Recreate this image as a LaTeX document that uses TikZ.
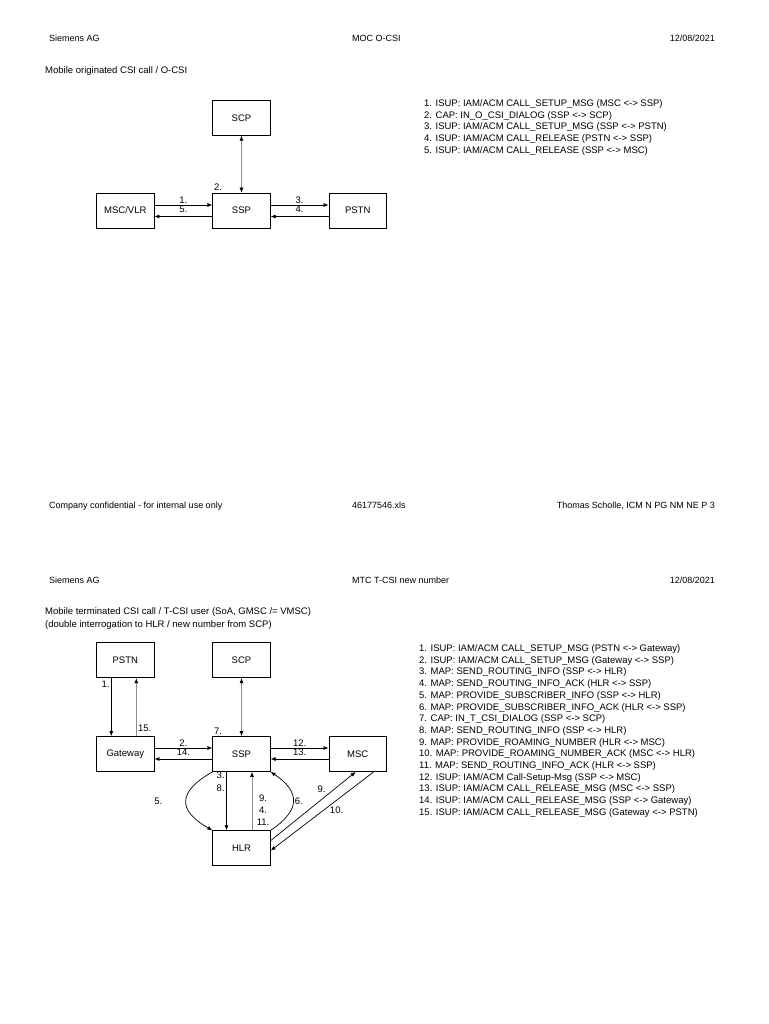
\documentclass[tikz,border=0pt]{standalone}
\usepackage{fontspec}
\setmainfont{Liberation Sans}
\usetikzlibrary{arrows.meta,positioning}

\begin{document}
\begin{tikzpicture}[
  x=1pt, y=-1pt,
  node distance=58pt and 58pt,
  box/.style={draw, minimum width=57.5pt, minimum height=35pt, line width=0.7pt, font=\fontsize{9.5}{11}\selectfont, inner sep=2pt},
  arr/.style={-{Latex[length=5pt,width=4pt]}, line width=0.7pt},
  uparr/.style={-{Latex[length=5pt,width=4pt,black]}, line width=0.7pt, draw=black!45},
  dbl/.style={{Latex[length=5pt,width=4pt,black]}-{Latex[length=5pt,width=4pt,black]}, line width=0.7pt, draw=black!45},
  lbl/.style={font=\fontsize{9.5}{11}\selectfont, inner sep=1.5pt},
  hdr/.style={font=\fontsize{9}{11}\selectfont, inner sep=0pt},
  msglist/.style={anchor=north west, align=left, font=\fontsize{9.5}{11.7}\selectfont, inner sep=0pt}
]
  \useasboundingbox (0,0) rectangle (768,1024);

  \node[hdr, anchor=base west] (co1) at (49,41.3) {Siemens AG};
  \node[hdr, anchor=base west] (ti1) at (352,41.3) {MOC O-CSI};
  \node[hdr, anchor=base east] (dt1) at (715,41.3) {12/08/2021};
  \node[lbl, anchor=base west, inner sep=0pt] (cap1) at (45,73.4) {Mobile originated CSI call / O-CSI};

  \node[box] (ssp1) at (241.5,210.5) {SSP};
  \node[box, left=of ssp1] (msc1) {MSC/VLR};
  \node[box, right=of ssp1] (pstn1) {PSTN};
  \node[box, above=57pt of ssp1] (scp1) {SCP};
  \draw[arr] ([yshift=5.5pt]msc1.east) -- node[lbl, above] (l1) {1.} node[lbl, below, inner sep=0.5pt] (l5) {5.} ([yshift=5.5pt]ssp1.west);
  \draw[arr] ([yshift=-6pt]ssp1.west) -- ([yshift=-6pt]msc1.east);
  \draw[arr] ([yshift=5.5pt]ssp1.east) -- node[lbl, above] (l3) {3.} node[lbl, below, inner sep=0.5pt] (l4) {4.} ([yshift=5.5pt]pstn1.west);
  \draw[arr] ([yshift=-6pt]pstn1.west) -- ([yshift=-6pt]ssp1.east);
  \draw[dbl] (scp1) -- (ssp1);
  \node[lbl, above right=0pt of ssp1.north west] (l2) {2.};

  \node[msglist] (list1) at (424,99.5) {1. ISUP: IAM/ACM CALL\_SETUP\_MSG (MSC <-> SSP)\\
    2. CAP: IN\_O\_CSI\_DIALOG (SSP <-> SCP)\\
    3. ISUP: IAM/ACM CALL\_SETUP\_MSG (SSP <-> PSTN)\\
    4. ISUP: IAM/ACM CALL\_RELEASE (PSTN <-> SSP)\\
    5. ISUP: IAM/ACM CALL\_RELEASE (SSP <-> MSC)};

  \node[hdr, anchor=base west] (foot1) at (49,508.3) {Company confidential - for internal use only};
  \node[hdr, anchor=base west] (file1) at (352,508.3) {46177546.xls};
  \node[hdr, anchor=base east] (auth1) at (715,508.3) {Thomas Scholle, ICM N PG NM NE P 3};

  \node[hdr, anchor=base west] (co2) at (49,583.3) {Siemens AG};
  \node[hdr, anchor=base west] (ti2) at (352,583.3) {MTC T-CSI new number};
  \node[hdr, anchor=base east] (dt2) at (715,583.3) {12/08/2021};
  \node[lbl, anchor=base west, inner sep=0pt] (cap2) at (45,614.4) {Mobile terminated CSI call / T-CSI user (SoA, GMSC /= VMSC)};
  \node[lbl, anchor=base west, inner sep=0pt] (cap3) at (45,627.4) {(double interrogation to HLR / new number from SCP)};

  \node[box] (ssp2) at (241.5,754) {SSP};
  \node[box, left=of ssp2] (gw) {Gateway};
  \node[box, right=of ssp2] (msc2) {MSC};
  \node[box, above=of ssp2] (scp2) {SCP};
  \node[box, above=of gw] (pstn2) {PSTN};
  \node[box, below=58.5pt of ssp2] (hlr) {HLR};

  \draw[arr] ([xshift=-14pt]pstn2.south) -- node[lbl, pos=0.1, left] (m1) {1.} ([xshift=-14pt]gw.north);
  \draw[uparr] ([xshift=11pt]gw.north) -- node[lbl, pos=0.13, right, text=black] (m15) {15.} ([xshift=11pt]pstn2.south);
  \draw[arr] ([yshift=6pt]gw.east) -- node[lbl, above] (m2) {2.} node[lbl, below, inner sep=0.5pt] (m14) {14.} ([yshift=6pt]ssp2.west);
  \draw[arr] ([yshift=-5pt]ssp2.west) -- ([yshift=-5pt]gw.east);
  \draw[arr] ([yshift=6pt]ssp2.east) -- node[lbl, above] (m12) {12.} node[lbl, below, inner sep=0.5pt] (m13) {13.} ([yshift=6pt]msc2.west);
  \draw[arr] ([yshift=-5pt]msc2.west) -- ([yshift=-5pt]ssp2.east);
  \draw[dbl] (scp2) -- (ssp2);
  \node[lbl, above right=0pt of ssp2.north west] (m7) {7.};

  \draw[arr] ([xshift=-15pt]ssp2.south) -- node[lbl, pos=0.17, left, align=center] (m38) {3.\\[2pt]8.} ([xshift=-15pt]hlr.north);
  \draw[uparr] ([xshift=10.5pt]hlr.north) -- node[lbl, pos=0.34, right=3pt, align=center, text=black] (m9411) {9.\\[1pt]4.\\[1pt]11.} ([xshift=10.5pt]ssp2.south);
  \draw[arr] (ssp2.south west) .. controls +(-35,20) and +(-35,-20) .. node[lbl, left=22pt] (m5) {5.} (hlr.north west);
  \draw[arr] (hlr.north east) .. controls +(30,-20) and +(30,20) .. node[lbl, right] (m6) {6.} (ssp2.south east);
  \draw[arr] ([yshift=7.5pt]hlr.east) -- node[lbl, pos=0.6, above=5pt] (m9) {9.} ([xshift=-2pt]msc2.south);
  \draw[arr] ([xshift=16pt]msc2.south) -- node[lbl, pos=0.36, below=5pt] (m10) {10.} ([yshift=-2.5pt]hlr.east);

  \node[msglist] (list2) at (419,644.5) {1. ISUP: IAM/ACM CALL\_SETUP\_MSG (PSTN <-> Gateway)\\
    2. ISUP: IAM/ACM CALL\_SETUP\_MSG (Gateway <-> SSP)\\
    3. MAP: SEND\_ROUTING\_INFO (SSP <-> HLR)\\
    4. MAP: SEND\_ROUTING\_INFO\_ACK (HLR <-> SSP)\\
    5. MAP: PROVIDE\_SUBSCRIBER\_INFO (SSP <-> HLR)\\
    6. MAP: PROVIDE\_SUBSCRIBER\_INFO\_ACK (HLR <-> SSP)\\
    7. CAP: IN\_T\_CSI\_DIALOG (SSP <-> SCP)\\
    8. MAP: SEND\_ROUTING\_INFO (SSP <-> HLR)\\
    9. MAP: PROVIDE\_ROAMING\_NUMBER (HLR <-> MSC)\\
    10. MAP: PROVIDE\_ROAMING\_NUMBER\_ACK (MSC <-> HLR)\\
    11. MAP: SEND\_ROUTING\_INFO\_ACK (HLR <-> SSP)\\
    12. ISUP: IAM/ACM Call-Setup-Msg (SSP <-> MSC)\\
    13. ISUP: IAM/ACM CALL\_RELEASE\_MSG (MSC <-> SSP)\\
    14. ISUP: IAM/ACM CALL\_RELEASE\_MSG (SSP <-> Gateway)\\
    15. ISUP: IAM/ACM CALL\_RELEASE\_MSG (Gateway <-> PSTN)};
\end{tikzpicture}
\end{document}
